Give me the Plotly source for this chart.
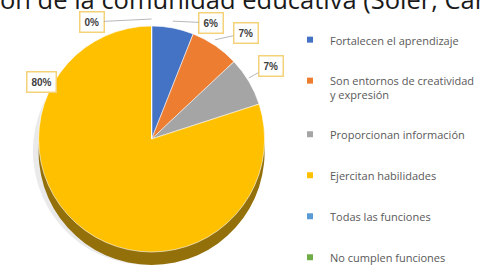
import math
import plotly.graph_objects as go

# ---- data ----
labels = ["Fortalecen el aprendizaje",
          "Son entornos de creatividad y expresión",
          "Proporcionan información",
          "Ejercitan habilidades",
          "Todas las funciones",
          "No cumplen funciones"]
legend_names = ["Fortalecen el aprendizaje",
                "Son entornos de creatividad<br>y expresión",
                "Proporcionan información",
                "Ejercitan habilidades",
                "Todas las funciones",
                "No cumplen funciones"]
values = [6, 7, 7, 80, 0, 0]
title_text = "ón de la comunidad educativa (Soler, Car"

# ---- styles ----
colors = ["#4472C4", "#ED7D31", "#A5A5A5", "#FFC000", "#5B9BD5", "#70AD47"]
side_colors = ["#2C4A82", "#9A5020", "#6A6A6A", "#94700A", "#3A6E9E", "#4A7A2E"]

W, H = 480, 273
cx, cy, r = 161, 139, 120   # top face of the pie, in px
depth = 13                  # thickness of the 3D side

def dom(cxp, cyp, rp):
    y0 = max(0.0, 1 - (cyp + rp) / H)
    y1 = min(1.0, 1 - (cyp - rp) / H)
    return dict(x=[(cxp - rp) / W, (cxp + rp) / W], y=[y0, y1])

fig = go.Figure()

# soft shadow
fig.add_trace(go.Pie(labels=labels, values=values, sort=False, direction="clockwise",
                     rotation=0, marker=dict(colors=["#E6E6E6"] * 6, line=dict(width=0)),
                     textinfo="none", hoverinfo="skip", showlegend=False,
                     domain=dom(cx - 5, cy + depth - 1, r + 1), opacity=0.8))
# side (depth)
fig.add_trace(go.Pie(labels=labels, values=values, sort=False, direction="clockwise",
                     rotation=0, marker=dict(colors=side_colors, line=dict(width=0)),
                     textinfo="none", hoverinfo="skip", showlegend=False,
                     domain=dom(cx, cy + depth, r)))
# top face
fig.add_trace(go.Pie(labels=labels, values=values, sort=False, direction="clockwise",
                     rotation=0, marker=dict(colors=colors, line=dict(width=0.6, color="#FFFFFF")),
                     textinfo="none", showlegend=False,
                     domain=dom(cx, cy, r)))

# legend entries
for name, col in zip(legend_names, colors):
    fig.add_trace(go.Scatter(x=[None], y=[None], mode="markers", name=name,
                             legendgroup=name,
                             marker=dict(symbol="square", size=6, color=col)))

# data labels with leader lines
label_pos = {4: (101, 22), 0: (222, 23), 1: (259, 33), 2: (286, 66), 3: (28, 71)}
total = sum(values)
cum = 0
for i, v in enumerate(values):
    mid = (cum + v / 2) / total * 2 * math.pi
    cum += v
    if i not in label_pos:
        continue
    tx = cx + r * math.sin(mid)
    ty = cy - r * math.cos(mid)
    lx, ly = label_pos[i]
    arrow = i != 3
    fig.add_annotation(x=(tx if arrow else lx) / W, y=1 - (ty if arrow else ly) / H,
                       xref="paper", yref="paper",
                       text=f"<b>{v}%</b>", showarrow=arrow,
                       ax=lx - tx, ay=ly - ty, axref="pixel", ayref="pixel",
                       arrowhead=0, arrowwidth=0.8, arrowcolor="#A6A6A6", standoff=0,
                       font=dict(family="Arial", size=10, color="#404040"),
                       bgcolor="#FFFFFF", bordercolor="#F3D27A", borderwidth=1.5, borderpad=4)

# cut-off title
fig.add_annotation(x=-0.004, y=1 - 18 / H, xref="paper", yref="paper",
                   xanchor="left", yanchor="bottom", text=title_text, showarrow=False,
                   font=dict(family="Open Sans", size=25.5, color="#1A1A1A"))

fig.update_layout(
    width=W, height=H, margin=dict(l=0, r=0, t=0, b=0),
    paper_bgcolor="#FFFFFF", plot_bgcolor="#FFFFFF",
    xaxis=dict(visible=False), yaxis=dict(visible=False),
    showlegend=True,
    legend=dict(x=308 / W, y=1 - 30 / H, xanchor="left", yanchor="top",
                font=dict(family="Open Sans", size=11, color="#595959"),
                tracegroupgap=22, valign="top", bgcolor="rgba(0,0,0,0)",
                itemclick=False),
)

post = ("document.documentElement.style.margin='0';"
        "document.documentElement.style.overflow='hidden';"
        "document.body.style.margin='0';"
        "document.body.style.overflow='hidden';"
        "var d=document.getElementById('{plot_id}');"
        "d.style.overflow='hidden';"
        "if(d.parentNode){d.parentNode.style.overflow='hidden';d.parentNode.style.width='480px';}"
        "d.querySelectorAll('svg').forEach(function(s){s.style.overflow='hidden';});")

fig.write_html("out.html", config={"displayModeBar": False}, post_script=post)
